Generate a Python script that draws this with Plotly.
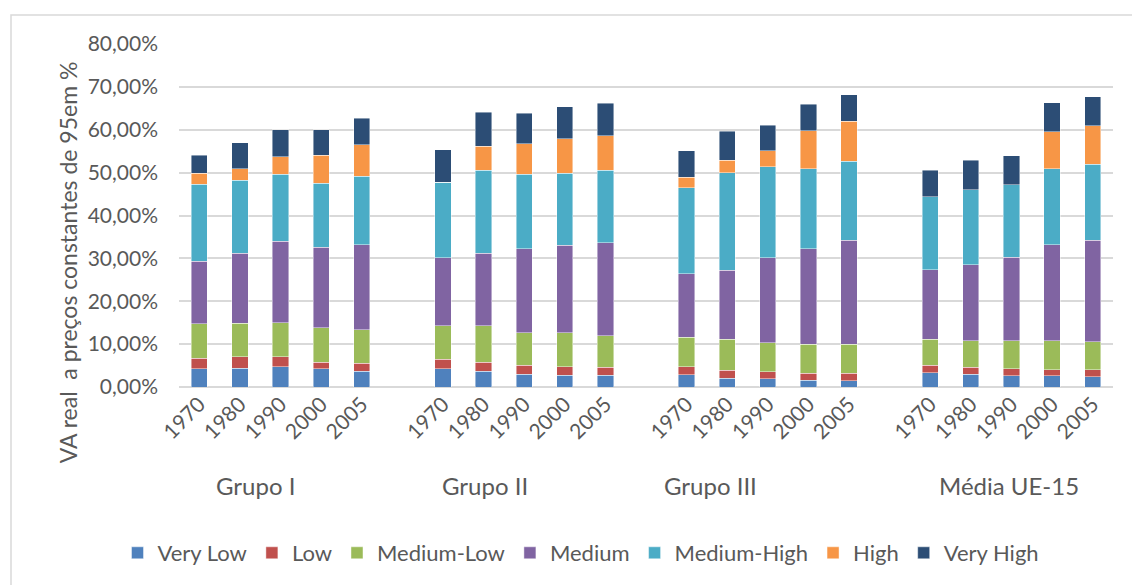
import plotly.graph_objects as go

# Groups and years along the category axis
groups = ["Grupo I", "Grupo II", "Grupo III", "Média UE-15"]
years = ["1970", "1980", "1990", "2000", "2005"]

# Share of real value added (%), per technology level; 5 years per group
very_low = [4.2, 4.4, 4.7, 4.2, 3.7,
            4.3, 3.7, 3.0, 2.8, 2.8,
            2.9, 2.0, 1.9, 1.6, 1.5,
            3.3, 3.0, 2.6, 2.6, 2.4]
low = [2.5, 2.6, 2.3, 1.6, 1.8,
       2.2, 2.1, 2.1, 1.9, 1.8,
       1.8, 1.9, 1.7, 1.6, 1.7,
       1.8, 1.6, 1.6, 1.4, 1.6]
medium_low = [8.0, 7.9, 8.0, 8.0, 7.9,
              7.8, 8.5, 7.6, 8.0, 7.3,
              6.9, 7.2, 6.7, 6.8, 6.8,
              6.0, 6.2, 6.6, 6.8, 6.6]
medium = [14.6, 16.3, 19.0, 18.8, 19.8,
          15.8, 16.9, 19.5, 20.4, 21.8,
          14.8, 16.1, 19.8, 22.3, 24.2,
          16.2, 17.7, 19.5, 22.4, 23.6]
medium_high = [18.0, 17.0, 15.6, 14.9, 16.0,
               17.7, 19.3, 17.4, 16.8, 16.8,
               20.1, 22.8, 21.3, 18.6, 18.5,
               17.1, 17.5, 16.9, 17.7, 17.7]
high = [2.5, 2.7, 4.1, 6.5, 7.3,
        0.0, 5.7, 7.1, 8.0, 8.1,
        2.4, 2.9, 3.7, 8.9, 9.3,
        0.0, 0.0, 0.0, 8.6, 9.0]
very_high = [4.3, 6.1, 6.3, 6.0, 6.2,
             7.5, 7.9, 7.1, 7.5, 7.6,
             6.2, 6.8, 6.0, 6.2, 6.2,
             6.1, 6.9, 6.7, 6.8, 6.8]

series = [
    ("Very Low", very_low, "#4F81BD"),
    ("Low", low, "#C0504D"),
    ("Medium-Low", medium_low, "#9BBB59"),
    ("Medium", medium, "#8064A2"),
    ("Medium-High", medium_high, "#4BACC6"),
    ("High", high, "#F79646"),
    ("Very High", very_high, "#2C4D75"),
]

# Category keys: one per bar, with an empty slot between groups
bar_keys = [f"{g} {y}" for g in groups for y in years]
category_order = []
for gi, g in enumerate(groups):
    if gi > 0:
        category_order.append(" " * gi)
    category_order.extend(f"{g} {y}" for y in years)
tick_text = [y for g in groups for y in years]

font_family = "Lato, 'Open Sans', sans-serif"
text_color = "#595959"

fig = go.Figure()
for name, vals, color in series:
    fig.add_trace(go.Bar(
        x=bar_keys,
        y=[v / 100 for v in vals],
        name=name,
        marker=dict(color=color, line=dict(color="rgba(255,255,255,0.55)", width=0.8)),
    ))

W, H = 1132, 585
L, R, T, B = 179, 19, 44, 197
pw, ph = W - L - R, H - T - B


def px_x(x):
    return (x - L) / pw


def px_y(y):
    return (H - B - y) / ph


# Group labels under the year ticks
group_centers = [255, 485, 710, 1009]
annotations = [
    dict(text=g, x=px_x(cx), y=px_y(487), xref="paper", yref="paper",
         showarrow=False, xanchor="center", yanchor="middle",
         font=dict(size=24, color=text_color, family=font_family))
    for g, cx in zip(groups, group_centers)
]
annotations.append(dict(
    text="VA real  a preços constantes de 95em %",
    x=px_x(68), y=px_y(263), xref="paper", yref="paper",
    showarrow=False, textangle=-90, xanchor="center", yanchor="middle",
    font=dict(size=23, color=text_color, family=font_family)))

fig.update_layout(
    width=W, height=H,
    margin=dict(l=L, r=R, t=T, b=B),
    barmode="stack",
    bargap=0.6,
    plot_bgcolor="white",
    paper_bgcolor="white",
    font=dict(family=font_family, size=21, color=text_color),
    xaxis=dict(
        type="category",
        categoryorder="array",
        categoryarray=category_order,
        range=[-0.5, len(category_order) - 0.5],
        tickmode="array",
        tickvals=bar_keys,
        ticktext=tick_text,
        tickangle=-45,
        showgrid=False,
        showline=False,
        ticks="",
        tickfont=dict(size=21, color=text_color),
    ),
    yaxis=dict(
        range=[0, 0.8],
        tickvals=[i / 10 for i in range(9)],
        ticktext=[f"{i * 10},00%" for i in range(9)],
        showgrid=True,
        gridcolor="#D9D9D9",
        gridwidth=1.5,
        zeroline=True,
        zerolinecolor="#D9D9D9",
        zerolinewidth=1.5,
        showline=False,
        ticks="",
        ticklabelstandoff=20,
        tickfont=dict(size=21, color=text_color),
    ),
    legend=dict(
        orientation="h",
        x=px_x(581), xanchor="center",
        y=px_y(553), yanchor="middle",
        font=dict(size=22, color=text_color),
        itemwidth=30,
        traceorder="normal",
    ),
    annotations=annotations,
    shapes=[dict(type="rect", xref="paper", yref="paper",
                 x0=px_x(11), x1=px_x(1200), y0=px_y(640), y1=px_y(15),
                 line=dict(color="#D9D9D9", width=1.5), fillcolor="rgba(0,0,0,0)",
                 layer="below")],
)

fig.write_html("out.html")
